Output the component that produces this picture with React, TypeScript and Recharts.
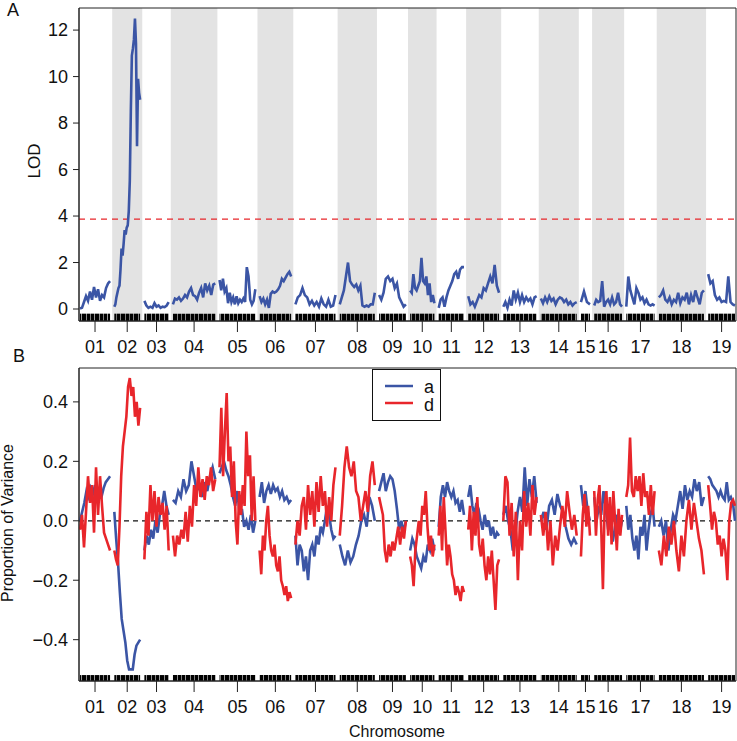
import React from 'react';
import { ComposedChart, Line, XAxis, YAxis, ReferenceArea, ReferenceLine, Legend } from 'recharts';

const chromosomes = ['01', '02', '03', '04', '05', '06', '07', '08', '09', '10', '11', '12', '13', '14', '15', '16', '17', '18', '19'];
// chromosome lengths (cM) and spacing between them on the genome axis
const chromLengths = [120, 103, 97, 169, 143, 126, 160, 140, 107, 97, 101, 123, 133, 143, 36, 111, 113, 180, 107];
const chromGap = 17;

// LOD profile, one array per chromosome (evenly spaced scan positions)
const lodScores = [
  [0.02, 0.05, 0.3, 0.55, 0.35, 0.75, 0.4, 0.95, 0.5, 0.85, 0.35, 0.6, 0.5, 0.9, 1.1, 1.2],
  [0.1, 0.2, 0.5, 0.7, 0.9, 1.0, 1.7, 2.6, 2.3, 2.8, 3.4, 3.2, 3.5, 3.6, 4.2, 5.5, 8.5, 10.9, 11.2, 11.6, 12.5, 11.4, 7.0, 9.9, 9.3, 9.0],
  [0.35, 0.15, 0.05, 0.1, 0.05, 0.25, 0.1, 0.15, 0.05, 0.1, 0.08, 0.15, 0.3],
  [0.2, 0.45, 0.4, 0.5, 0.35, 0.45, 0.6, 0.5, 0.75, 0.9, 0.6, 0.55, 0.4, 0.7, 0.9, 0.5, 1.1, 0.8, 1.0, 0.6, 1.05, 1.1],
  [1.25, 0.8, 1.3, 0.75, 0.9, 0.25, 0.7, 0.3, 0.5, 0.2, 0.55, 0.25, 0.4, 0.3, 0.45, 0.3, 1.8, 1.4, 0.4, 0.2, 0.35, 0.85],
  [0.55, 0.3, 0.45, 0.2, 0.4, 0.05, 0.65, 0.75, 0.7, 0.75, 0.85, 1.0, 1.3, 1.2, 1.35, 1.5, 1.6, 1.4],
  [0.2, 0.5, 0.6, 0.9, 0.6, 0.5, 0.2, 0.35, 0.15, 0.3, 0.1, 0.45, 0.2, 0.1, 0.4, 0.1, 0.15, 0.6],
  [0.2, 0.5, 0.8, 1.4, 2.0, 1.2, 1.05, 0.95, 1.05, 0.8, 1.0, 0.15, 0.1, 0.15, 0.1, 0.2, 0.2, 0.7],
  [0.6, 0.4, 0.7, 1.3, 1.4, 1.2, 1.3, 0.9, 1.1, 0.5, 0.3, 0.1, 0.2],
  [0.8, 0.7, 1.5, 0.9, 0.8, 1.0, 1.2, 2.2, 1.2, 1.1, 1.4, 0.6, 1.1, 0.3, 0.6, 0.25],
  [0.05, 0.4, 0.5, 0.1, 0.5, 0.8, 1.0, 1.2, 1.5, 1.6, 1.3, 1.7, 1.8, 1.8],
  [0.55, 0.2, 0.3, 0.1, 0.35, 0.6, 0.5, 0.9, 0.8, 1.1, 1.4, 1.1, 1.9, 1.0, 0.7],
  [0.1, 0.3, 0.05, 0.4, 0.15, 0.8, 0.4, 0.7, 0.3, 0.6, 0.3, 0.5, 0.35, 0.45, 0.2, 0.5, 0.55],
  [0.45, 0.25, 0.5, 0.3, 0.55, 0.35, 0.45, 0.2, 0.4, 0.5, 0.45, 0.3, 0.4, 0.2, 0.3, 0.15, 0.25, 0.3],
  [0.3, 0.75, 0.3, 0.2],
  [0.15, 0.4, 0.3, 0.35, 1.2, 0.1, 0.3, 0.4, 0.2, 0.5, 0.2, 0.3, 0.7, 0.2, 0.1],
  [0.1, 1.4, 0.8, 0.5, 0.2, 0.9, 0.7, 0.4, 0.5, 0.25, 0.4, 0.2, 0.15, 0.2, 0.15],
  [0.5, 0.6, 0.8, 0.4, 0.3, 0.5, 0.2, 0.4, 0.3, 0.7, 0.25, 0.5, 0.4, 0.7, 0.2, 0.6, 0.3, 0.8, 0.5, 0.2, 0.7, 0.8],
  [1.5, 1.1, 1.2, 0.6, 0.4, 0.5, 0.3, 0.35, 0.3, 1.4, 0.3, 0.2, 0.15],
];

// proportion of variance, additive (a)
const addVar = [
  [0.0, 0.03, 0.06, 0.1, 0.08, 0.11, 0.09, 0.12, 0.07, 0.1, 0.08, 0.11, 0.13, 0.14, 0.15],
  [0.03, -0.06, -0.14, -0.24, -0.33, -0.37, -0.41, -0.47, -0.5, -0.5, -0.5, -0.45, -0.42, -0.41, -0.4],
  [-0.1, -0.05, -0.08, -0.03, -0.06, 0.0, -0.04, 0.02, 0.05, 0.1, 0.05, 0.02],
  [0.07, 0.06, 0.1, 0.08, 0.14, 0.1, 0.12, 0.2, 0.15, 0.1, 0.12, 0.08, 0.13, 0.1, 0.15, 0.18, 0.14],
  [0.16, 0.18, 0.2, 0.17, 0.15, 0.12, 0.08, 0.05, 0.1, 0.02, 0.04, -0.02, 0.0, -0.03, 0.02, -0.04, 0.0],
  [0.08, 0.13, 0.06, 0.1, 0.12, 0.09, 0.12, 0.1, 0.11, 0.08, 0.1, 0.07, 0.08, 0.06, 0.07],
  [-0.05, -0.15, -0.08, -0.1, -0.17, -0.12, -0.2, -0.1, -0.08, -0.12, -0.05, -0.08, -0.02, -0.04, 0.0, 0.05, 0.02, -0.03, -0.06, -0.05],
  [-0.08, -0.12, -0.15, -0.1, -0.14, -0.12, -0.08, -0.05, 0.0, 0.02, -0.02, 0.08, 0.05, 0.0],
  [0.1, 0.13, 0.16, 0.1, 0.13, 0.15, 0.14, 0.1, 0.04, -0.03, 0.0, -0.04, 0.0],
  [-0.1, -0.06, -0.08, -0.12, -0.14, -0.16, -0.12, -0.14, -0.08, -0.1, -0.06, -0.1],
  [-0.02, 0.08, 0.12, 0.08, 0.13, 0.1, 0.08, 0.1, 0.06, 0.07, 0.03, 0.07, 0.02],
  [0.08, 0.12, 0.05, 0.02, 0.06, 0.04, 0.0, -0.03, 0.02, -0.02, 0.0, -0.05, -0.02, -0.06, -0.04, -0.05],
  [0.02, 0.05, 0.0, -0.03, -0.1, -0.05, 0.03, 0.08, 0.03, 0.18, 0.05, 0.14, 0.08, 0.15, 0.06],
  [0.0, 0.03, -0.03, 0.05, 0.07, 0.02, 0.09, 0.05, 0.03, -0.02, -0.06, -0.08, -0.06, -0.08],
  [0.12, 0.05, 0.1, 0.03, 0.0],
  [0.08, 0.0, 0.05, 0.02, 0.1, 0.04, -0.03, 0.0, -0.07, -0.02, 0.02, -0.04, 0.0],
  [0.05, -0.03, 0.02, -0.06, -0.1, -0.05, -0.13, -0.02, -0.05, 0.02, -0.1, -0.03, 0.02, 0.05, -0.02],
  [-0.02, 0.0, -0.05, 0.0, -0.1, -0.03, 0.02, 0.0, 0.05, 0.1, 0.04, 0.12, 0.07, 0.1, 0.08, 0.14, 0.1, 0.13, 0.05, 0.08],
  [0.15, 0.14, 0.12, 0.11, 0.1, 0.08, 0.1, 0.08, 0.07, 0.13, 0.07, 0.08, 0.06, 0.0],
];

// proportion of variance, dominance (d)
const domVar = [
  [-0.03, 0.02, -0.09, 0.03, 0.15, 0.06, 0.12, -0.04, 0.18, 0.02, 0.15, 0.05, -0.04, -0.06, -0.08, -0.1],
  [-0.1, -0.13, -0.15, -0.02, 0.15, 0.25, 0.3, 0.35, 0.45, 0.48, 0.42, 0.45, 0.35, 0.4, 0.32, 0.38],
  [-0.13, 0.03, -0.05, 0.12, 0.0, 0.1, -0.02, 0.08, 0.02, 0.06, -0.03, 0.05, -0.1],
  [-0.05, -0.12, -0.05, -0.08, -0.03, -0.06, 0.03, -0.07, 0.05, -0.02, 0.12, 0.05, 0.18, 0.08, 0.14, 0.07, 0.15, 0.12, 0.18, 0.1, 0.14],
  [0.18, 0.38, 0.15, 0.3, 0.43, 0.2, 0.25, 0.08, 0.2, 0.0, -0.08, 0.1, 0.02, 0.12, 0.05, 0.3, 0.15, 0.22, 0.0, 0.15, 0.0],
  [-0.1, -0.18, -0.05, -0.1, 0.0, 0.05, -0.05, -0.1, -0.12, -0.08, -0.15, -0.17, -0.12, -0.2, -0.22, -0.25, -0.22, -0.27, -0.24, -0.26],
  [-0.08, 0.0, -0.05, 0.05, 0.08, -0.03, 0.12, 0.02, 0.1, -0.02, 0.13, 0.03, 0.15, 0.05, 0.1, -0.02, 0.08, 0.0, 0.12, 0.18],
  [-0.05, 0.05, 0.18, 0.25, 0.18, 0.15, 0.2, 0.1, 0.08, 0.0, 0.05, 0.1, 0.03, 0.15, 0.2, 0.12],
  [0.08, 0.05, 0.02, -0.1, -0.14, -0.08, -0.12, -0.07, -0.1, -0.06, -0.02, -0.08, -0.02, -0.06, 0.0],
  [-0.12, -0.15, -0.22, -0.1, -0.05, 0.0, -0.05, 0.05, 0.02, 0.1, -0.02, -0.1, -0.05, -0.12, -0.08],
  [-0.05, 0.05, -0.1, 0.08, -0.03, -0.15, -0.08, -0.12, -0.18, -0.2, -0.25, -0.22, -0.24, -0.27, -0.22, -0.24],
  [-0.03, 0.05, -0.1, 0.03, -0.05, 0.08, -0.08, -0.12, -0.06, -0.15, -0.2, -0.12, -0.18, -0.1, -0.2, -0.3, -0.15, -0.13],
  [0.0, 0.15, 0.13, -0.05, 0.06, -0.12, 0.03, -0.2, 0.0, -0.1, 0.1, -0.02, 0.06, -0.05, 0.12, 0.02, 0.08],
  [0.02, -0.05, 0.03, -0.1, 0.0, -0.15, -0.05, -0.1, -0.02, 0.05, -0.02, 0.1, 0.03, -0.03, 0.02, -0.05],
  [-0.12, 0.02, 0.09, -0.02, 0.05, -0.05],
  [0.1, -0.05, 0.07, 0.12, -0.02, -0.23, 0.05, 0.1, -0.05, 0.08, -0.08, 0.1, 0.0, -0.1, 0.04, -0.05, 0.02],
  [0.08, 0.12, 0.28, 0.1, 0.08, 0.15, 0.1, 0.15, 0.05, 0.16, 0.08, 0.1, 0.02, 0.12, 0.02, 0.1],
  [-0.1, -0.15, -0.05, -0.12, -0.02, -0.08, 0.0, -0.1, -0.17, -0.05, -0.12, 0.0, 0.07, -0.03, 0.06, 0.0, -0.06, -0.1, -0.18],
  [0.12, 0.05, -0.03, 0.03, 0.0, -0.08, -0.05, -0.12, -0.06, -0.1, -0.2, 0.0, 0.06, 0.07, 0.05],
];

const lodTicks = [0, 2, 4, 6, 8, 10, 12];
const varTicks = [-0.4, -0.2, 0, 0.2, 0.4];
const lodThreshold = 3.87;

const BLUE = '#3b55a5';
const RED = '#e8262b';
const AXIS = '#222';
const FONT = '"Liberation Sans", Arial, Helvetica, sans-serif';

const starts: number[] = [];
chromLengths.forEach((len, i) => {
  starts.push(i === 0 ? 0 : starts[i - 1] + chromLengths[i - 1] + chromGap);
});
const xMin = -4;
const xMax = starts[starts.length - 1] + chromLengths[chromLengths.length - 1] + 4;
const midpoints = starts.map((s, i) => s + chromLengths[i] / 2);

// one point per scan position; a null after each chromosome breaks the line
function toSeries(values: number[][]) {
  const out: { x: number; v: number | null }[] = [];
  values.forEach((vals, c) => {
    const s = starts[c];
    const len = chromLengths[c];
    vals.forEach((v, k) => out.push({ x: s + (len * k) / (vals.length - 1), v }));
    out.push({ x: s + len + chromGap / 2, v: null });
  });
  return out;
}

const lodSeries = toSeries(lodScores);
const addSeries = toSeries(addVar);
const domSeries = toSeries(domVar);

const chromLabel = (v: number) => {
  const i = midpoints.findIndex((m) => Math.abs(m - v) < 0.01);
  return i >= 0 ? chromosomes[i] : '';
};

const tickStyle = { fontSize: 18, fill: '#111', fontFamily: FONT };
const lodDomain: [number, number] = [-0.516, 12.95];
const varDomain: [number, number] = [-0.539, 0.514];

function xAxis(height: number) {
  return (
    <XAxis
      dataKey="x"
      type="number"
      domain={[xMin, xMax]}
      allowDataOverflow
      ticks={midpoints}
      interval={0}
      tickFormatter={chromLabel}
      tick={tickStyle}
      tickSize={11}
      tickMargin={8}
      height={height}
      stroke={AXIS}
    />
  );
}

function rugAreas(domain: [number, number], top: number) {
  return starts.map((s, i) => (
    <ReferenceArea
      key={`rug-${i}`}
      x1={s}
      x2={s + chromLengths[i]}
      y1={domain[0]}
      y2={top}
      fill="url(#rugStripes)"
      fillOpacity={1}
      stroke="none"
      ifOverflow="extendDomain"
    />
  ));
}

function VarianceLegend() {
  return (
    <div style={{ width: 69, height: 52, border: '1px solid #111', boxSizing: 'border-box', background: '#fff' }}>
      <svg width={67} height={50} style={{ display: 'block' }}>
        <line x1={12} x2={40} y1={16} y2={16} stroke={BLUE} strokeWidth={2.5} />
        <line x1={12} x2={40} y1={33} y2={33} stroke={RED} strokeWidth={2.5} />
        <text x={51} y={23} fontSize={18} fontFamily={FONT} fill="#111">a</text>
        <text x={51} y={41} fontSize={18} fontFamily={FONT} fill="#111">d</text>
      </svg>
    </div>
  );
}

export default function App() {
  return (
    <div style={{ position: 'absolute', left: 0, top: 0, width: 737, height: 741, background: '#fff' }}>
      <svg width={0} height={0} style={{ position: 'absolute' }}>
        <defs>
          <pattern id="rugStripes" patternUnits="userSpaceOnUse" width={13} height={20}>
            <rect x={0} y={0} width={3.4} height={20} fill="#000" />
            <rect x={4} y={0} width={4.2} height={20} fill="#000" />
            <rect x={8.7} y={0} width={3.8} height={20} fill="#000" />
          </pattern>
        </defs>
      </svg>

      <div style={{ position: 'absolute', left: 0, top: 0 }}>
        <ComposedChart width={737} height={360} margin={{ top: 8, right: 1, bottom: 0, left: 0 }}>
          {starts.map((s, i) =>
            i % 2 === 1 ? (
              <ReferenceArea
                key={`shade-${i}`}
                x1={s - chromGap / 2}
                x2={s + chromLengths[i] + chromGap / 2}
                y1={lodDomain[0]}
                y2={lodDomain[1]}
                fill="#e3e3e3"
                fillOpacity={1}
                stroke="none"
              />
            ) : null
          )}
          {xAxis(39)}
          <YAxis
            type="number"
            domain={lodDomain}
            allowDataOverflow
            ticks={lodTicks}
            tick={tickStyle}
            tickSize={6}
            tickMargin={5}
            width={79}
            stroke={AXIS}
          />
          <ReferenceLine y={lodThreshold} stroke={RED} strokeWidth={1.2} strokeDasharray="6 5" />
          <Line
            data={lodSeries}
            dataKey="v"
            type="linear"
            stroke={BLUE}
            strokeWidth={2.6}
            dot={false}
            activeDot={false}
            connectNulls={false}
            isAnimationActive={false}
          />
          {rugAreas(lodDomain, -0.2)}
          <ReferenceArea x1={xMin} x2={xMax} y1={lodDomain[0]} y2={lodDomain[1]} fill="none" stroke={AXIS} strokeWidth={1} />
        </ComposedChart>
      </div>

      <div style={{ position: 'absolute', left: 0, top: 360 }}>
        <ComposedChart width={737} height={381} margin={{ top: 8, right: 1, bottom: 0, left: 0 }}>
          {xAxis(60)}
          <YAxis
            type="number"
            domain={varDomain}
            allowDataOverflow
            ticks={varTicks}
            tick={tickStyle}
            tickFormatter={(v: number) => v.toFixed(1).replace('-', '\u2212')}
            tickSize={6}
            tickMargin={5}
            width={79}
            stroke={AXIS}
          />
          <ReferenceLine y={0} stroke="#111" strokeWidth={1.2} strokeDasharray="5 4" />
          <Line
            data={addSeries}
            dataKey="v"
            name="a"
            type="linear"
            stroke={BLUE}
            strokeWidth={2.6}
            dot={false}
            activeDot={false}
            connectNulls={false}
            isAnimationActive={false}
          />
          <Line
            data={domSeries}
            dataKey="v"
            name="d"
            type="linear"
            stroke={RED}
            strokeWidth={2.6}
            dot={false}
            activeDot={false}
            connectNulls={false}
            isAnimationActive={false}
          />
          {rugAreas(varDomain, -0.519)}
          <ReferenceArea x1={xMin} x2={xMax} y1={varDomain[0]} y2={varDomain[1]} fill="none" stroke={AXIS} strokeWidth={1} />
          <Legend
            layout="vertical"
            align="center"
            verticalAlign="middle"
            content={() => <VarianceLegend />}
            wrapperStyle={{ left: 372, top: 9, width: 69, height: 52 }}
          />
        </ComposedChart>
      </div>

      <svg width={737} height={741} style={{ position: 'absolute', left: 0, top: 0, pointerEvents: 'none' }}>
        <g fontFamily={FONT} fill="#111">
          <text x={7} y={16} fontSize={18}>A</text>
          <text x={13} y={362} fontSize={18}>B</text>
          <text x={39.5} y={161} fontSize={17} textAnchor="middle" transform="rotate(-90 39.5 161)">LOD</text>
          <text x={13} y={523} fontSize={16} textAnchor="middle" transform="rotate(-90 13 523)">Proportion of Variance</text>
          <text x={397} y={737} fontSize={16} textAnchor="middle">Chromosome</text>
        </g>
      </svg>
    </div>
  );
}
